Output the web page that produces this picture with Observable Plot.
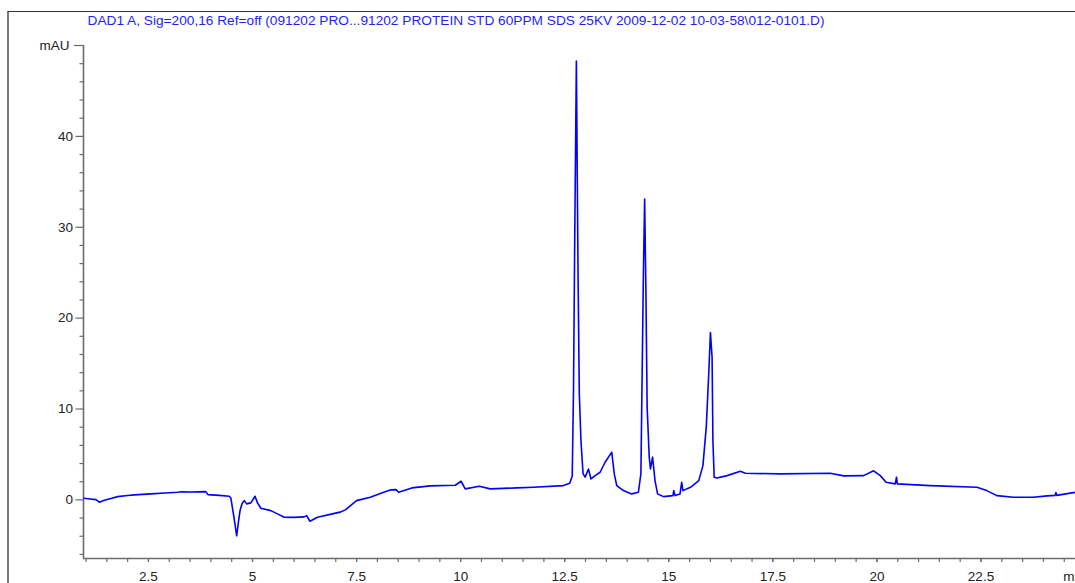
<!DOCTYPE html>
<html>
<head>
<meta charset="utf-8">
<script src="https://cdn.jsdelivr.net/npm/d3@7"></script>
<script src="https://cdn.jsdelivr.net/npm/@observablehq/plot@0.6"></script>
<style>
  html, body { margin: 0; padding: 0; background: #fff; overflow: hidden; }
  #wrap { position: relative; width: 1075px; height: 583px; overflow: hidden; }
  #border { position: absolute; left: 7px; top: 11px; right: 0; bottom: 0;
            border-left: 2px solid #7a7a7a; border-top: 1.5px solid #333; pointer-events: none; }
  #chart { position: absolute; left: 0; top: 0; }
</style>
</head>
<body>
<div id="wrap"><div id="chart"></div><div id="border"></div></div>
<script>
const titleText = "DAD1 A, Sig=200,16 Ref=off (091202 PRO...91202 PROTEIN STD 60PPM SDS 25KV 2009-12-02 10-03-58\\012-0101.D)";
const yUnit = "mAU";
const xUnit = "min";

// retention time (min) and absorbance (mAU)
const time = [
  0.95, 1.10, 1.24, 1.32, 1.44, 1.60, 1.76, 2.00, 2.16, 2.56, 2.90, 3.20, 3.30, 3.50, 3.88, 3.93,
  4.20, 4.44, 4.48, 4.55, 4.62, 4.66, 4.70, 4.75, 4.80, 4.86, 4.96, 5.06, 5.12, 5.20, 5.44, 5.60,
  5.76, 6.00, 6.24, 6.30, 6.38, 6.56, 6.92, 7.10, 7.23, 7.50, 7.83, 8.10, 8.31, 8.45, 8.51, 8.83,
  9.27, 9.87, 10.01, 10.11, 10.45, 10.71, 11.35, 11.75, 12.47, 12.62, 12.68, 12.71, 12.74, 12.78,
  12.82, 12.85, 12.89, 12.94, 12.99, 13.07, 13.13, 13.23, 13.35, 13.47, 13.55, 13.63, 13.69, 13.75,
  13.91, 14.11, 14.27, 14.33, 14.36, 14.39, 14.42, 14.45, 14.48, 14.53, 14.56, 14.61, 14.67, 14.73,
  14.87, 15.10, 15.12, 15.15, 15.27, 15.31, 15.34, 15.52, 15.72, 15.82, 15.90, 15.96, 16.00, 16.04,
  16.06, 16.09, 16.16, 16.40, 16.72, 16.84, 17.68, 18.88, 19.20, 19.68, 19.92, 20.08, 20.22, 20.44,
  20.47, 20.49, 21.28, 22.40, 22.64, 22.88, 23.28, 23.76, 24.09, 24.28, 24.30, 24.32, 24.77
];
const signal = [
  0.18, 0.10, 0.03, -0.26, -0.04, 0.15, 0.36, 0.48, 0.55, 0.66, 0.75, 0.84, 0.90, 0.86, 0.91, 0.58,
  0.50, 0.40, 0.20, -1.80, -3.95, -2.50, -1.18, -0.40, -0.08, -0.44, -0.33, 0.40, -0.33, -0.92, -1.18, -1.54,
  -1.91, -1.92, -1.87, -1.73, -2.35, -1.91, -1.54, -1.35, -1.10, -0.08, 0.29, 0.77, 1.10, 1.13, 0.84, 1.32,
  1.54, 1.61, 2.05, 1.21, 1.50, 1.21, 1.32, 1.39, 1.57, 1.83, 2.60, 11.7, 28.5, 48.3,
  24.9, 11.7, 6.5, 2.9, 2.5, 3.4, 2.3, 2.67, 3.04, 4.14, 4.7, 5.24, 2.86, 1.57,
  1.02, 0.66, 0.84, 2.9, 13.9, 24.9, 33.1, 23.0, 10.2, 4.7, 3.4, 4.7, 2.1, 0.66,
  0.36, 0.47, 1.02, 0.47, 0.66, 1.94, 1.02, 1.39, 2.12, 3.77, 8.0, 13.9, 18.4, 15.7,
  6.5, 2.5, 2.4, 2.67, 3.15, 2.93, 2.86, 2.93, 2.64, 2.67, 3.2, 2.67, 1.94, 1.76,
  2.5, 1.76, 1.57, 1.39, 1.02, 0.47, 0.29, 0.29, 0.44, 0.50, 0.80, 0.50, 0.84
];
const xMajorTicks = [2.5, 5, 7.5, 10, 12.5, 15, 17.5, 20, 22.5];
const yMajorTicks = [0, 10, 20, 30, 40];

const xDomain = [0.94, 24.77];
const yDomain = [-6.45, 50];
const xMinorTicks = d3.range(1, 24.51, 0.5);
const yMinorTicks = d3.range(-6, 49, 2).filter(d => d % 10 !== 0);

const data = time.map((t, i) => ({t, v: signal[i]}));
const axisColor = "#6b6b6b";
const font = "Arial, 'Liberation Sans', sans-serif";

const plot = Plot.plot({
  width: 1075,
  height: 583,
  marginLeft: 83,
  marginRight: 0,
  marginTop: 45,
  marginBottom: 25,
  style: {fontFamily: font, fontSize: "13.5px", color: "#222", background: "transparent", overflow: "visible"},
  x: {domain: xDomain, axis: null},
  y: {domain: yDomain, axis: null},
  marks: [
    Plot.axisX({ticks: xMinorTicks, tickSize: 4, tickFormat: () => "", label: null, stroke: axisColor, strokeWidth: 1.2}),
    Plot.axisX({ticks: xMajorTicks, tickSize: 4, tickPadding: 9, tickFormat: d => String(d), label: null, stroke: axisColor, strokeWidth: 1.2, fill: "#222"}),
    Plot.axisY({ticks: yMinorTicks, tickSize: 3.5, tickFormat: () => "", label: null, stroke: axisColor, strokeWidth: 1.2}),
    Plot.axisY({ticks: yMajorTicks, tickSize: 7.5, tickPadding: 3, tickFormat: d => String(d), label: null, stroke: axisColor, strokeWidth: 1.2, fill: "#222"}),
    Plot.axisY({ticks: [50], tickSize: 9, tickPadding: 5, tickFormat: () => yUnit, label: null, stroke: axisColor, strokeWidth: 1.2, fill: "#222"}),
    Plot.ruleX([xDomain[0]], {stroke: axisColor, strokeWidth: 1.6}),
    Plot.ruleY([yDomain[0]], {stroke: axisColor, strokeWidth: 1.6}),
    Plot.line(data, {x: "t", y: "v", stroke: "#0000ff", strokeWidth: 1.6}),
    Plot.text([xUnit], {x: 24.5, frameAnchor: "bottom", text: d => d, textAnchor: "start", lineAnchor: "top", dx: -1, dy: 13, fill: "#222"}),
    Plot.text([titleText], {frameAnchor: "top-left", text: d => d, textAnchor: "start", lineAnchor: "middle", dx: 4, dy: -24.5, fill: "#1e1eff", fontSize: 13.7})
  ]
});
document.getElementById("chart").appendChild(plot);
</script>
</body>
</html>
